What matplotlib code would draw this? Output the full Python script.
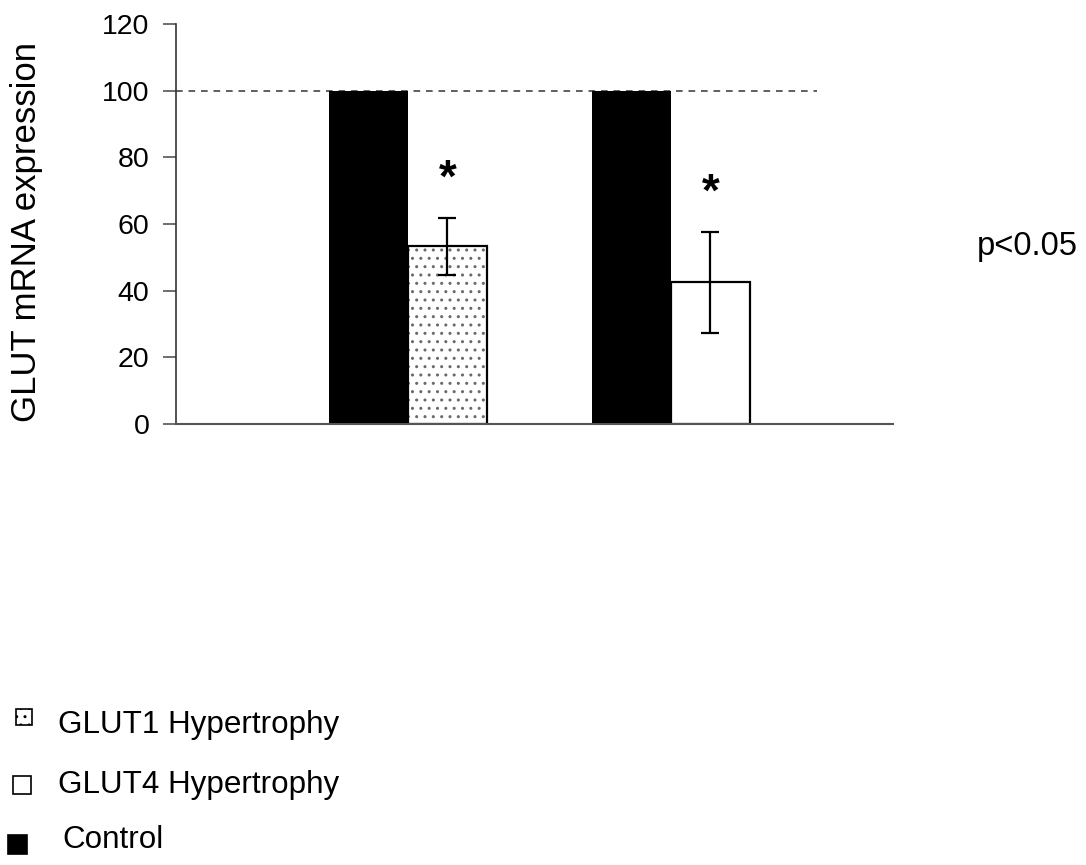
import matplotlib
matplotlib.use("Agg")
import matplotlib.pyplot as plt
from matplotlib.patches import Rectangle

plt.rcParams['font.family'] = ['Liberation Sans', 'DejaVu Sans']
plt.rcParams['hatch.linewidth'] = 1.0

# Data
groups = ["GLUT1", "GLUT4"]
control = [100, 100]
hypertrophy = [53.3, 42.5]
hypertrophy_err = [8.6, 15.2]
series_labels = ["GLUT1 Hypertrophy", "GLUT4 Hypertrophy", "Control"]
yticks = [0, 20, 40, 60, 80, 100, 120]

W, H = 1086, 865
fig = plt.figure(figsize=(W / 100, H / 100), dpi=100)
ax = fig.add_axes([176 / W, 1 - 424 / H, (892.7 - 176) / W, 400 / H])

pos = [1, 2]
bw = 0.30
ax.bar([p - bw / 2 for p in pos], control, width=bw, color="black",
       edgecolor="black", linewidth=0, zorder=2)
hatches = ["..", None]
for p, v, e, h in zip(pos, hypertrophy, hypertrophy_err, hatches):
    # fill with a light dot pattern, then a crisp black outline on top
    ax.bar(p + bw / 2, v, width=bw, color="white", edgecolor="#6a6a6a",
           linewidth=0, hatch=h, zorder=2)
    ax.bar(p + bw / 2, v, width=bw, fill=False, edgecolor="black",
           linewidth=1.6, zorder=2.5)
    ax.errorbar(p + bw / 2, v, yerr=e, fmt="none", ecolor="black",
                elinewidth=1.6, capsize=6.8, capthick=1.6, zorder=3)
    ax.text(p + bw / 2, v + e + 11.5, "*", ha="center", va="center",
            fontsize=33, fontweight="bold")

# Reference line at control level
ax.plot([0.118, 2.554], [100, 100], color="#444444", lw=1.2,
        dashes=(4, 3.5), zorder=1)

ax.set_xlim(0.118, 2.843)
ax.set_ylim(0, 120)
ax.set_yticks(yticks)
ax.set_xticks([])
for s in ["top", "right"]:
    ax.spines[s].set_visible(False)
ax.spines["left"].set_color("#333333")
ax.spines["bottom"].set_color("#555555")
ax.spines["left"].set_linewidth(1.2)
ax.spines["bottom"].set_linewidth(1.5)
ax.tick_params(axis="y", direction="out", length=9.5, width=1.2,
               color="#555555", labelsize=20.5, pad=9.5)

fig.text(26.5 / W, 1 - 232.5 / H, "GLUT mRNA expression", rotation=90,
         ha="center", va="center", fontsize=25)
fig.text(1027.5 / W, 1 - 246 / H, "p<0.05", ha="center", va="center",
         fontsize=23.5)

# Legend entries drawn as simple square swatches
legend_items = [
    (23.5, 717, 16, "white", "..", 58, 724.5),
    (21.5, 784.5, 18, "white", None, 58, 784.5),
    (17, 844.5, 19, "black", None, 62.7, 839.5),
]
for (cx, cy, sz, fc, ht, tx, ty), lab in zip(legend_items, series_labels):
    r = Rectangle(((cx - sz / 2) / W, 1 - (cy + sz / 2) / H), sz / W, sz / H,
                  transform=fig.transFigure, facecolor=fc, edgecolor="black",
                  linewidth=1.2, hatch=ht)
    fig.add_artist(r)
    fig.text(tx / W, 1 - ty / H, lab, ha="left", va="center", fontsize=22.6)

fig.savefig("out.png", dpi=100)
